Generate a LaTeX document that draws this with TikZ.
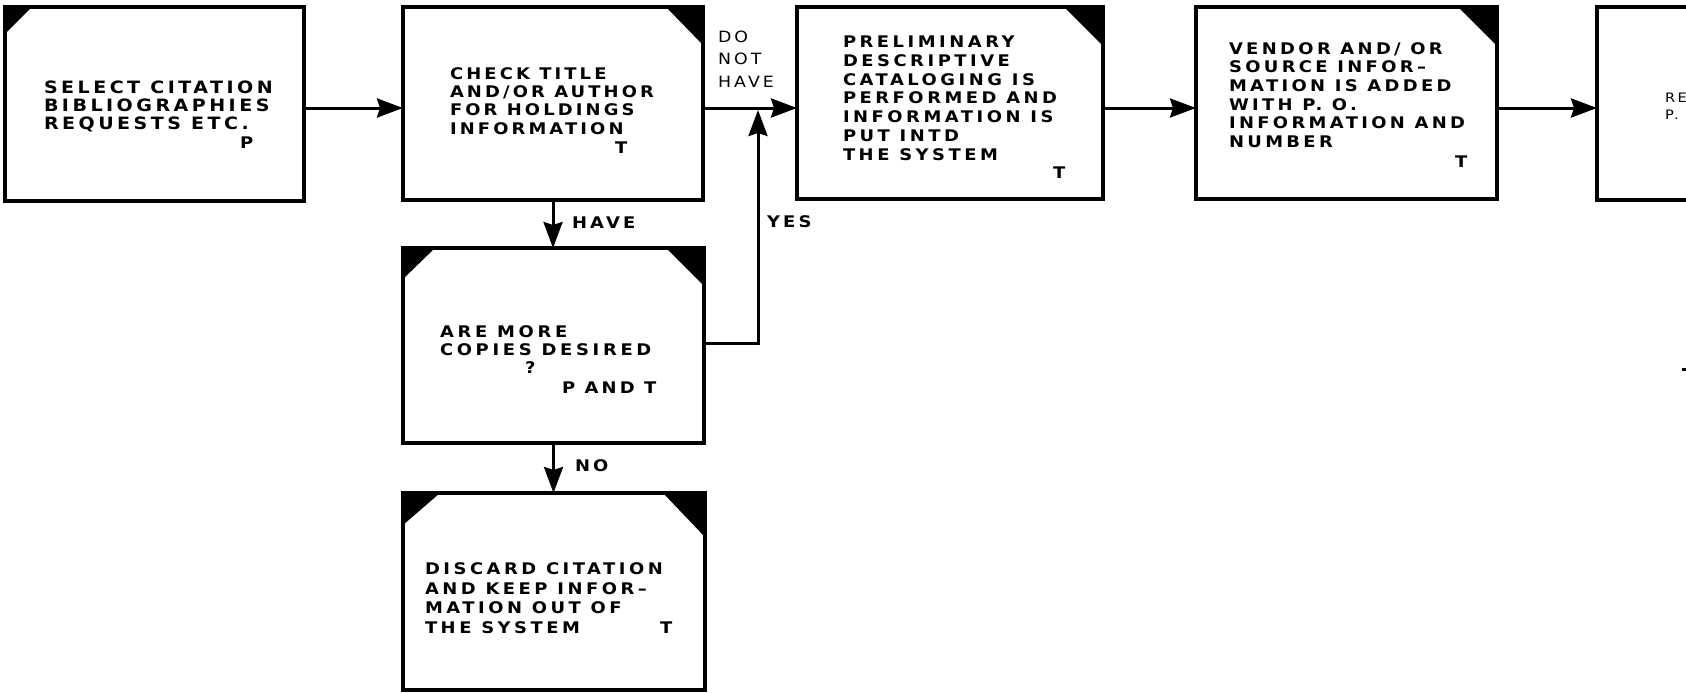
\documentclass[tikz,border=0pt]{standalone}
\usepackage{fontspec}
\usetikzlibrary{arrows.meta}
\newfontfamily\bxf{DejaVu Sans}[FakeStretch=1.12,LetterSpace=20]
\tikzset{
  flowbox/.style={draw, line width=3.2pt, inner sep=0pt, outer sep=0pt, fill=white},
  txt/.style={inner sep=0pt, outer sep=0pt, align=left, anchor=base west,
    font=\bxf\bfseries\fontsize{16}{18.5}\selectfont},
  lbl/.style={inner sep=0pt, outer sep=0pt, align=left, anchor=base west,
    font=\bxf\fontsize{15.5}{22}\selectfont},
  arr/.style={line width=3pt, -{Stealth[length=26pt,width=19pt,inset=3pt]}},
  ln/.style={line width=3pt}
}
\newcommand\boxfont[3]{\bxf\bfseries\addfontfeatures{LetterSpace=#3}\fontsize{#1}{#2}\selectfont}
\begin{document}
\begin{tikzpicture}[x=1pt,y=-1pt]
\fill[white] (0,0) rectangle (1686,693);
\useasboundingbox (0,0) rectangle (1686,693);

% boxes
\node[flowbox, minimum width=299pt, minimum height=194pt] (b1) at (154.5,104) {};
\node[flowbox, minimum width=300pt, minimum height=193pt] (b2) at (553,103.5) {};
\node[flowbox, minimum width=306pt, minimum height=192pt] (b3) at (950,103) {};
\node[flowbox, minimum width=301pt, minimum height=192pt] (b4) at (1346.5,103) {};
\node[flowbox, minimum width=303pt, minimum height=193pt] (b5) at (1748.5,103.5) {};
\node[flowbox, minimum width=301pt, minimum height=195pt] (b6) at (553.5,345.5) {};
\node[flowbox, minimum width=302pt, minimum height=197pt] (b7) at (554,591.5) {};

% black corners
\fill (b1.north west) -- ++(27,0) -- ++(-27,27) -- cycle;
\fill (b2.north east) -- ++(-37,0) -- ++(37,38) -- cycle;
\fill (b3.north east) -- ++(-39,0) -- ++(39,39) -- cycle;
\fill (b4.north east) -- ++(-39,0) -- ++(39,39) -- cycle;
\fill (b6.north west) -- ++(32,0) -- ++(-32,31) -- cycle;
\fill (b6.north east) -- ++(-38,0) -- ++(38,38) -- cycle;
\fill (b7.north west) -- ++(37,0) -- ++(-37,32) -- cycle;
\fill (b7.north east) -- ++(-42,0) -- ++(42,44) -- cycle;

% texts (base anchor = baseline of last line)
\node[txt, font=\boxfont{17}{18}{20.5}] (t1) at (44,129.5)
  {SELECT CITATION\\BIBLIOGRAPHIES\\REQUESTS ETC.};
\node[txt] (p1) at (240,148) {P};

\node[txt, font=\boxfont{16}{18.3}{19.5}] (t2) at (450,134)
  {CHECK TITLE\\AND/OR AUTHOR\\FOR HOLDINGS\\INFORMATION};
\node[txt] (p2) at (615,153) {T};

\node[txt, font=\boxfont{16}{18.67}{22}] (t3) at (843,160)
  {PRELIMINARY\\DESCRIPTIVE\\CATALOGING IS\\PERFORMED AND\\INFORMATION IS\\PUT INTD\\THE SYSTEM};
\node[txt] (p3) at (1053,178) {T};

\node[txt, font=\boxfont{16}{18.7}{21}] (t4) at (1229,147.5)
  {VENDOR AND/ OR\\SOURCE INFOR–\\MATION IS ADDED\\WITH P. O.\\INFORMATION AND\\NUMBER};
\node[txt] (p4) at (1455,167) {T};

\node[lbl, font=\bxf\fontsize{13}{17}\selectfont] (t5) at (1665,119) {RE\\P.};

\node[txt, font=\boxfont{16}{18}{23}] (t6) at (440,355)
  {ARE MORE\\COPIES DESIRED};
\node[txt] (q6) at (525,373) {?};
\node[txt] (p6) at (562,393) {P AND T};

\node[txt, font=\boxfont{16}{19.5}{22}] (t7) at (425,633)
  {DISCARD CITATION\\AND KEEP INFOR–\\MATION OUT OF\\THE SYSTEM};
\node[txt] (p7) at (660,633) {T};

% connectors
\coordinate (r) at (0,108);
\draw[arr] (b1.east |- r) -- (b2.west |- r);
\draw[arr] (b2.east |- r) -- (b3.west |- r);
\draw[arr] (b3.east |- r) -- (b4.west |- r);
\draw[arr] (b4.east |- r) -- (b5.west |- r);
\draw[arr] (b2.south) -- (b2.south |- b6.north);
\draw[arr] (b6.south) -- (b6.south |- b7.north);
\coordinate (j) at (758,110);
\coordinate (k) at (758,343);
\draw[arr] (b6.east |- k) -- (k) -- (j);
\coordinate (e1) at (1682,369);
\coordinate (e2) at (1700,369);
\draw[ln] (e1) -- (e2);

% labels
\node[lbl] (dnh) at (718,87) {DO\\NOT\\HAVE};
\node[txt] (have) at (572,228) {HAVE};
\node[txt] (yes) at (767,227) {YES};
\node[txt] (no) at (575,471) {NO};
\end{tikzpicture}
\end{document}
